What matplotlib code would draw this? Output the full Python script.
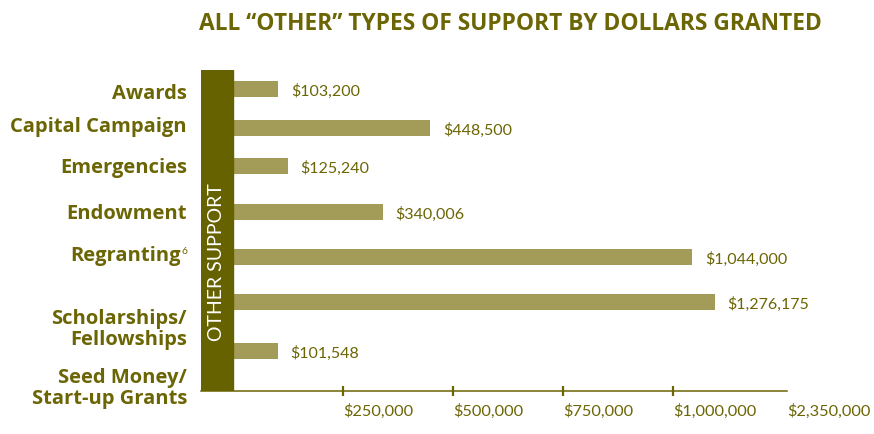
import matplotlib
matplotlib.use("Agg")
import matplotlib.pyplot as plt
import numpy as np

# data
categories = ["Awards", "Capital Campaign", "Emergencies", "Endowment",
              "Regranting", "Scholarships/\nFellowships",
              "Seed Money/\nStart-up Grants"]
amounts = [103200, 448500, 125240, 340006, 1044000, 1276175, 101548]
tick_values = [250000, 500000, 750000, 1000000, 2350000]
tick_labels = ["$250,000", "$500,000", "$750,000", "$1,000,000", "$2,350,000"]
band_label = "OTHER SUPPORT"
title = "ALL \u201cOTHER\u201d TYPES OF SUPPORT BY DOLLARS GRANTED"

# layout (axes y units are pixels down from the top of the plot area)
bar_pos = [19, 58, 96, 142, 187, 232, 281]
label_base = [28.3, 61.3, 101.7, 147.7, 190, 253.3, 312.3]
line_gap = 21
bar_h = 15.5

OLIVE = "#6b6504"
BAND = "#676200"
BAR = "#a29c58"
FONT = "Lato"
HEAD = "Open Sans"

# axis is broken above ~$1.05M: compress the tail so $2.35M fits
BRK, A, P = 1.05e6, 0.1663, 0.8717


def fwd(x):
    x = np.asarray(x, dtype=float)
    tail = BRK + A * np.power(np.clip(x - BRK, 0, None) / 1e6, P) * 1e6
    return np.where(x <= BRK, x, tail)


def inv(y):
    y = np.asarray(y, dtype=float)
    tail = BRK + np.power(np.clip(y - BRK, 0, None) / (A * 1e6), 1 / P) * 1e6
    return np.where(y <= BRK, y, tail)


W, H = 874, 435
fig = plt.figure(figsize=(W / 100, H / 100), dpi=100)
ax = fig.add_axes([201 / W, (H - 392) / H, 586 / W, 321 / H])
ax.set_xscale("function", functions=(fwd, inv))
ax.set_xlim(-0.0727e6, 2.35e6)
ax.set_ylim(321, 0)

ax.barh(bar_pos, amounts, height=bar_h, color=BAR, zorder=2)
ax.axvspan(-0.0727e6, 0, color=BAND, zorder=3)
ax.text(0.5 * -0.0727e6, 191, band_label, rotation=90, color="white",
        fontsize=14, family=FONT, ha="center", va="center", zorder=4)

for y, v in zip(bar_pos, amounts):
    ax.annotate(f"${v:,.0f}", (v, y + 6), xytext=(9, 0),
                textcoords="offset points", ha="left", va="baseline",
                fontsize=11.5, color=OLIVE, family=FONT)

# category labels sit at their own heights, right-aligned left of the band
trans = ax.get_yaxis_transform()
lx = -14 / 586
for cat, yb in zip(categories, label_base):
    for i, line in enumerate(cat.split("\n")):
        xx = lx
        if line == "Regranting":
            xx = lx - 6 / 586
            ax.text(lx, yb - 14, "6", transform=trans, ha="right", va="top",
                    fontsize=7.5, color=OLIVE, family=FONT, clip_on=False)
        ax.text(xx, yb + i * line_gap, line, transform=trans, ha="right",
                va="baseline", fontsize=14.5, fontweight="bold", color=OLIVE,
                family=HEAD, clip_on=False)

for s in ["top", "right", "left"]:
    ax.spines[s].set_visible(False)
ax.spines["bottom"].set_color(OLIVE)
ax.spines["bottom"].set_linewidth(1.1)
ax.set_yticks([])
ax.set_xticks(tick_values)
ax.set_xticklabels(tick_labels, ha="left", fontsize=11.8, color=OLIVE, family=FONT)
ax.tick_params(axis="x", direction="inout", length=7.5, width=1.6,
               color=OLIVE, pad=5)
ax.xaxis.get_major_ticks()[-1].tick1line.set_visible(False)

fig.text(199 / W, 1 - 30 / H, title, ha="left", va="baseline", fontsize=16.4,
         fontweight="bold", color=OLIVE, family=HEAD)

fig.savefig("out.png", dpi=100)
